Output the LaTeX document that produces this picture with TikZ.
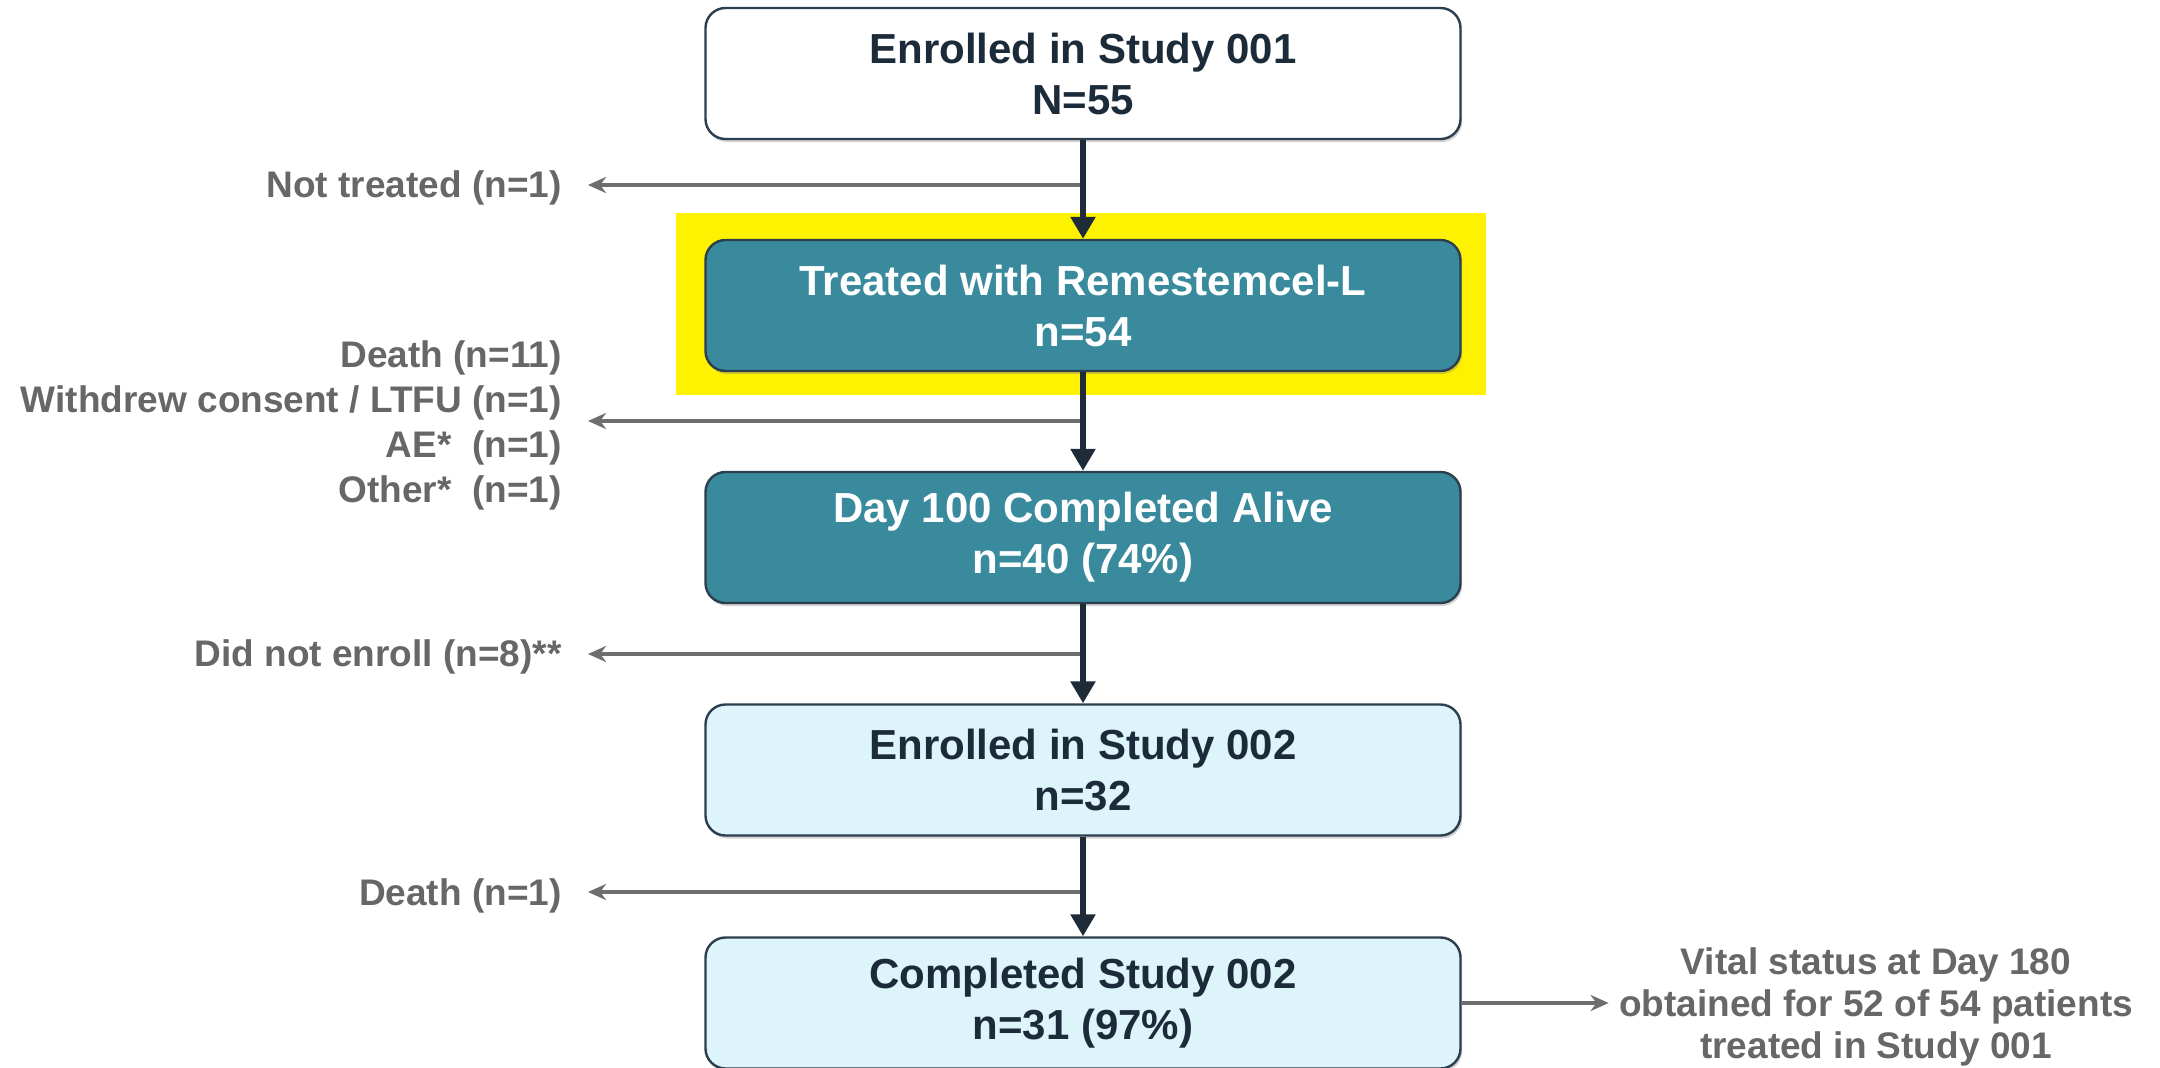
\documentclass[tikz,border=0pt]{standalone}
\usepackage{fontspec}
\setmainfont{Liberation Sans}
\usetikzlibrary{arrows.meta,shadows}
\definecolor{darktxt}{HTML}{1C2B39}
\definecolor{graytxt}{HTML}{676767}
\definecolor{tealfill}{HTML}{398A9D}
\definecolor{lightfill}{HTML}{DDF4FA}
\definecolor{boxborder}{HTML}{2D3F4E}
\definecolor{linecol}{HTML}{1E2B38}
\definecolor{graylinecol}{HTML}{6E6E6E}
\begin{document}
\begin{tikzpicture}[x=0.5pt,y=-0.5pt,
  flowbox/.style={draw=boxborder, line width=1.2pt, rounded corners=10pt,
    minimum width=377.5pt, minimum height=65.5pt, align=center, inner sep=0pt,
    font=\fontsize{21}{25.5}\selectfont\bfseries,
    drop shadow={shadow xshift=0.8pt, shadow yshift=-1.5pt, opacity=0.35}},
  whitebox/.style={flowbox, fill=white, text=darktxt},
  tealbox/.style={flowbox, fill=tealfill, text=white},
  lightbox/.style={flowbox, fill=lightfill, text=darktxt},
  sidelabel/.style={anchor=east, align=right, text=graytxt, inner sep=0pt,
    font=\fontsize{18.5}{22.5}\selectfont\bfseries},
  notelabel/.style={align=center, text=graytxt, inner sep=0pt,
    font=\fontsize{18.5}{21}\selectfont\bfseries},
  mainarrow/.style={draw=linecol, line width=2.8pt, -{Triangle[length=11pt,width=12pt]}},
  sidearrow/.style={draw=graylinecol, line width=1.8pt, -{Stealth[length=9pt,width=8pt]}}]

\useasboundingbox (0,0) rectangle (2160,1067);
\fill[white] (0,0) rectangle (2160,1067);

% highlight
\fill[yellow] (676,213) rectangle (1486,395);

% boxes
\node[whitebox] (b1) at (1083,73.5) {Enrolled in Study 001\\N=55};
\node[tealbox]  (b2) at (1083,305.5) {Treated with Remestemcel-L\\n=54};
\node[tealbox]  (b3) at (1083,537.5) {Day 100 Completed Alive\\n=40 (74\%)};
\node[lightbox] (b4) at (1083,770) {Enrolled in Study 002\\n=32};
\node[lightbox] (b5) at (1083,1003) {Completed Study 002\\n=31 (97\%)};

% side labels
\node[sidelabel] (l1) at (562,188) {Not treated (n=1)};
\node[sidelabel] (l2) at (562,425) {Death (n=11)\\Withdrew consent / LTFU (n=1)\\AE*\ \ (n=1)\\Other*\ \ (n=1)};
\node[sidelabel] (l3) at (562,657) {Did not enroll (n=8)**};
\node[sidelabel] (l4) at (562,896) {Death (n=1)};
\node[notelabel] (r) at (1876,1007) {Vital status at Day 180\\obtained for 52 of 54 patients\\treated in Study 001};

% branch points on the main line
\coordinate (s1) at (1083,185);
\coordinate (s2) at (1083,421);
\coordinate (s3) at (1083,654);
\coordinate (s4) at (1083,892);

% side arrows
\draw[sidearrow, shorten >=13pt] (s1) -- (s1 -| l1.east);
\draw[sidearrow, shorten >=13pt] (s2) -- (s2 -| l2.east);
\draw[sidearrow, shorten >=13pt] (s3) -- (s3 -| l3.east);
\draw[sidearrow, shorten >=13pt] (s4) -- (s4 -| l4.east);
\draw[sidearrow, shorten >=5pt] (b5.east) -- (b5.east -| r.west);

% main arrows
\draw[mainarrow] (b1.south) -- (b2.north);
\draw[mainarrow] (b2.south) -- (b3.north);
\draw[mainarrow] (b3.south) -- (b4.north);
\draw[mainarrow] (b4.south) -- (b5.north);
\end{tikzpicture}
\end{document}
